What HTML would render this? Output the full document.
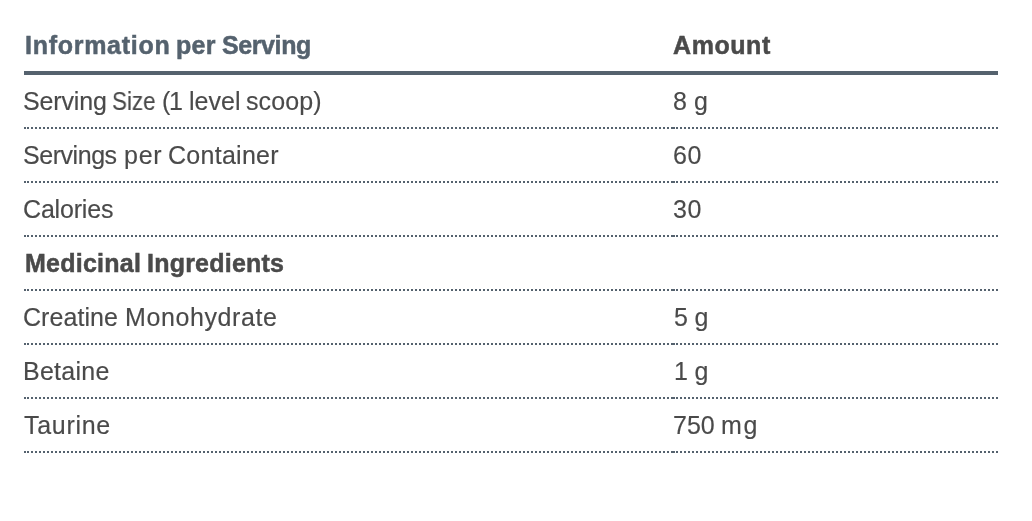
<!DOCTYPE html>
<html>
<head>
<meta charset="utf-8">
<style>
html,body{margin:0;padding:0;background:#fff;}
body{width:1032px;height:521px;position:relative;overflow:hidden;font-family:"Liberation Sans",sans-serif;}
.t{position:absolute;will-change:transform;white-space:pre;font-size:25px;line-height:28px;color:#4a4a4a;-webkit-text-stroke:0.15px currentColor;}
.b{font-weight:bold;-webkit-text-stroke:0.5px currentColor;}
.bar{position:absolute;left:24px;top:71px;width:974px;height:4px;background:#55626e;}
.d1,.d2{position:absolute;height:0;border-top:2px dotted #55626e;}
.d1{left:24px;width:649px;}
.d2{left:673px;width:325px;}
</style>
</head>
<body>
<div class="bar"></div>
<span class="t b" style="left:25px;top:31px;letter-spacing:0.721px;color:#55626e">Information</span>
<span class="t b" style="left:176px;top:31px;letter-spacing:0.309px;color:#55626e">per</span>
<span class="t b" style="left:222px;top:31px;letter-spacing:-0.405px;color:#55626e">Serving</span>
<span class="t b" style="left:673px;top:31px;letter-spacing:0.571px;color:#4a4a4a">Amount</span>
<span class="t" style="left:23px;top:87px;letter-spacing:-0.142px;color:#4a4a4a">Serving</span>
<span class="t" style="left:112px;top:87px;letter-spacing:0.000px;transform:scaleX(0.8953);transform-origin:0 0;color:#4a4a4a">Size</span>
<span class="t" style="left:162px;top:87px;letter-spacing:0.000px;color:#4a4a4a">(</span>
<span class="t" style="left:169px;top:87px;letter-spacing:0.000px;color:#4a4a4a">1</span>
<span class="t" style="left:189px;top:87px;letter-spacing:0.043px;color:#4a4a4a">level</span>
<span class="t" style="left:246px;top:87px;letter-spacing:0.098px;color:#4a4a4a">scoop)</span>
<span class="t" style="left:673px;top:87px;letter-spacing:0.024px;color:#4a4a4a">8 g</span>
<span class="t" style="left:23px;top:141px;letter-spacing:-0.449px;color:#4a4a4a">Servings</span>
<span class="t" style="left:124px;top:141px;letter-spacing:0.756px;color:#4a4a4a">per</span>
<span class="t" style="left:168px;top:141px;letter-spacing:0.273px;color:#4a4a4a">Container</span>
<span class="t" style="left:673px;top:141px;letter-spacing:0.696px;color:#4a4a4a">60</span>
<span class="t" style="left:23px;top:195px;letter-spacing:-0.178px;color:#4a4a4a">Calories</span>
<span class="t" style="left:673px;top:195px;letter-spacing:0.653px;color:#4a4a4a">30</span>
<span class="t b" style="left:25px;top:249px;letter-spacing:0.252px;color:#4a4a4a">Medicinal</span>
<span class="t b" style="left:147px;top:249px;letter-spacing:0.226px;color:#4a4a4a">Ingredients</span>
<span class="t" style="left:23px;top:303px;letter-spacing:0.061px;color:#4a4a4a">Creatine</span>
<span class="t" style="left:125px;top:303px;letter-spacing:0.603px;color:#4a4a4a">Monohydrate</span>
<span class="t" style="left:674px;top:303px;letter-spacing:-0.118px;color:#4a4a4a">5 g</span>
<span class="t" style="left:23px;top:357px;letter-spacing:0.263px;color:#4a4a4a">Betaine</span>
<span class="t" style="left:674px;top:357px;letter-spacing:-0.113px;color:#4a4a4a">1 g</span>
<span class="t" style="left:24px;top:411px;letter-spacing:0.691px;color:#4a4a4a">Taurine</span>
<span class="t" style="left:673px;top:411px;letter-spacing:-0.006px;color:#4a4a4a">750</span>
<span class="t" style="left:721px;top:411px;letter-spacing:1.702px;color:#4a4a4a">mg</span>
<div class="d1" style="top:127px"></div><div class="d2" style="top:127px"></div>
<div class="d1" style="top:181px"></div><div class="d2" style="top:181px"></div>
<div class="d1" style="top:235px"></div><div class="d2" style="top:235px"></div>
<div class="d1" style="top:289px"></div><div class="d2" style="top:289px"></div>
<div class="d1" style="top:343px"></div><div class="d2" style="top:343px"></div>
<div class="d1" style="top:397px"></div><div class="d2" style="top:397px"></div>
<div class="d1" style="top:451px"></div><div class="d2" style="top:451px"></div>

</body>
</html>
